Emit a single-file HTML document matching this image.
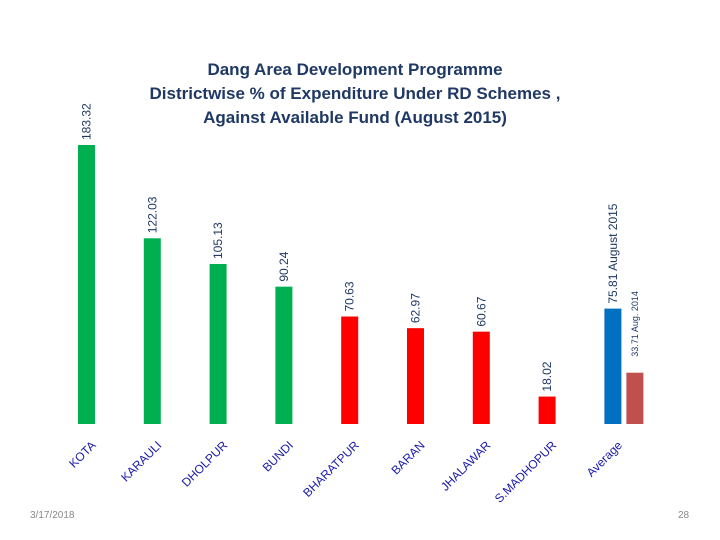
<!DOCTYPE html>
<html><head><meta charset="utf-8"><style>
body{margin:0;background:#fff;}
svg{display:block;font-family:"Liberation Sans",sans-serif;}
</style></head><body>
<svg id="c" width="720" height="540">
<g font-weight="bold" font-size="17" fill="#1f3864" text-anchor="middle">
<text x="355" y="75">Dang Area Development Programme</text>
<text x="355" y="99">Districtwise % of Expenditure Under RD Schemes ,</text>
<text x="355" y="123">Against Available Fund (August 2015)</text>
</g>
<g id="bars"></g>
<text x="30" y="518" font-size="10" fill="#888">3/17/2018</text>
<text x="678" y="518" font-size="10" fill="#888">28</text>
</svg>
<script>
const categories=["KOTA","KARAULI","DHOLPUR","BUNDI","BHARATPUR","BARAN","JHALAWAR","S.MADHOPUR","Average"];
const values2015=[183.32,122.03,105.13,90.24,70.63,62.97,60.67,18.02,75.81];
const colors=["#00b050","#00b050","#00b050","#00b050","#ff0000","#ff0000","#ff0000","#ff0000","#0070c0"];
const avg2014=[33.71];
const base=424, scale=279/183.32, x0=78, step=65.8, bw=17;
const y=v=>base-v*scale;
const g=document.getElementById('bars');
const NS="http://www.w3.org/2000/svg";
function mk(t,a){const e=document.createElementNS(NS,t);for(const k in a)e.setAttribute(k,a[k]);g.appendChild(e);return e;}
categories.forEach((c,i)=>{
  const x=x0+i*step, v=values2015[i];
  const r=mk('rect',{x:x,y:y(v),width:bw,height:base-y(v),fill:colors[i]});
  
  
  const lbl=(i===categories.length-1)?v.toFixed(2)+" August 2015":v.toFixed(2);
  const t=mk('text',{x:0,y:0,'font-size':12,fill:'#1f3864',transform:`translate(${x+bw/2+4},${y(v)-5}) rotate(-90)`});
  t.textContent=lbl;
  
  
  const ct=mk('text',{x:0,y:0,'font-size':12,fill:'#1a1aa8','text-anchor':'end',transform:`translate(${x+bw/2+10},${446}) rotate(-45)`});
  ct.textContent=c;
  
  
});
const xa=x0+8*step+22, va=avg2014[0];
const r2=mk('rect',{x:xa,y:y(va),width:bw,height:base-y(va),fill:'#c0504d'});


const t2=mk('text',{x:0,y:0,'font-size':9,fill:'#1f3864',transform:`translate(${xa+bw/2+3},${y(va)-16}) rotate(-90)`});
t2.textContent=va.toFixed(2)+" Aug. 2014";


</script>
</body></html>
